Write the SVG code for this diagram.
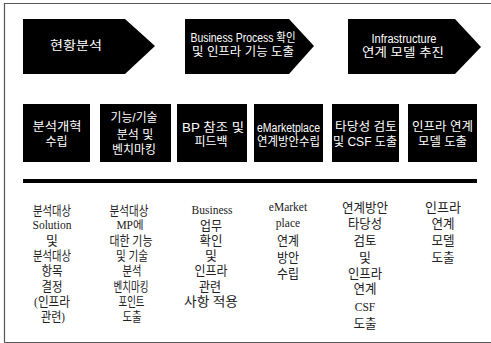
<svg xmlns="http://www.w3.org/2000/svg" width="491" height="343" viewBox="0 0 491 343">
<style>
.frame{fill:none;stroke:#555;stroke-width:1.2}
.blk{fill:#000}
.wt{fill:#fff;font-family:"Liberation Sans","Noto Sans CJK KR",sans-serif;font-size:12px;text-anchor:middle}
.bt{fill:#222;font-family:"Liberation Serif","Noto Sans CJK KR",serif;font-size:13px;text-anchor:middle}
.lt{font-size:11.5px}
</style>
<rect width="491" height="343" fill="#fff"/>
<path class="frame" d="M4.5,342.5 V3.5 H491 M4.5,342.5 H491"/>
<g id="arrow1"><polygon class="blk" points="23,19 125,19 155,46 125,74 23,74"/><text class="wt" x="76" y="50" textLength="52" lengthAdjust="spacingAndGlyphs">현황분석</text></g>
<g id="arrow2"><polygon class="blk" points="185,19 289,19 314,46 289,74 185,74"/><text class="wt" x="243" y="42" textLength="105" lengthAdjust="spacingAndGlyphs">Business Process 확인</text><text class="wt" x="243" y="56" textLength="102" lengthAdjust="spacingAndGlyphs">및 인프라 기능 도출</text></g>
<g id="arrow3"><polygon class="blk" points="348,19 455,19 481,47 455,74 348,74"/><text class="wt" x="404" y="43" textLength="65" lengthAdjust="spacingAndGlyphs">Infrastructure</text><text class="wt" x="403" y="57" textLength="82" lengthAdjust="spacingAndGlyphs">연계 모델 추진</text></g>
<g id="box1"><rect class="blk" x="23" y="104" width="67" height="58"/><text class="wt" x="57" y="131" textLength="49" lengthAdjust="spacingAndGlyphs">분석개혁</text><text class="wt" x="56.5" y="145.5">수립</text></g>
<g id="box2"><rect class="blk" x="100" y="104" width="71" height="58"/><text class="wt" x="134" y="122" textLength="47" lengthAdjust="spacingAndGlyphs">기능/기술</text><text class="wt" x="135" y="138.5">분석 및</text><text class="wt" x="134" y="153.5" textLength="44" lengthAdjust="spacingAndGlyphs">벤치마킹</text></g>
<g id="box3"><rect class="blk" x="177" y="104" width="70" height="58"/><text class="wt" x="213" y="132" textLength="62" lengthAdjust="spacingAndGlyphs">BP 참조 및</text><text class="wt" x="211" y="146">피드백</text></g>
<g id="box4"><rect class="blk" x="254" y="104" width="69" height="58"/><text class="wt" x="288.5" y="132" textLength="63" lengthAdjust="spacingAndGlyphs">eMarketplace</text><text class="wt" x="288.5" y="146" textLength="63" lengthAdjust="spacingAndGlyphs">연계방안수립</text></g>
<g id="box5"><rect class="blk" x="332" y="104" width="67" height="58"/><text class="wt" x="366" y="131" textLength="62" lengthAdjust="spacingAndGlyphs">타당성 검토</text><text class="wt" x="365" y="146" textLength="64" lengthAdjust="spacingAndGlyphs">및 CSF 도출</text></g>
<g id="box6"><rect class="blk" x="408" y="104" width="69" height="58"/><text class="wt" x="442.5" y="131" textLength="61" lengthAdjust="spacingAndGlyphs">인프라 연계</text><text class="wt" x="442.5" y="146" textLength="49" lengthAdjust="spacingAndGlyphs">모델 도출</text></g>
<g id="divider"><rect class="blk" x="23" y="179" width="454" height="4"/></g>
<g id="col1" class="bt">
<text x="52" y="214.5" textLength="38" lengthAdjust="spacingAndGlyphs">분석대상</text>
<text class="lt" x="52" y="229">Solution</text>
<text x="52" y="244.5">및</text>
<text x="52" y="260" textLength="38" lengthAdjust="spacingAndGlyphs">분석대상</text>
<text x="52" y="275" textLength="21" lengthAdjust="spacingAndGlyphs">항목</text>
<text x="52" y="290.5" textLength="21" lengthAdjust="spacingAndGlyphs">결정</text>
<text x="52" y="305.5" textLength="36" lengthAdjust="spacingAndGlyphs">(인프라</text>
<text x="53" y="320.5" textLength="24" lengthAdjust="spacingAndGlyphs">관련)</text>
</g>
<g id="col2" class="bt">
<text x="129" y="214.5" textLength="39" lengthAdjust="spacingAndGlyphs">분석대상</text>
<text class="lt" x="130" y="229">MP에</text>
<text x="131" y="244.5" textLength="43" lengthAdjust="spacingAndGlyphs">대한 기능</text>
<text x="132" y="260" textLength="32" lengthAdjust="spacingAndGlyphs">및 기술</text>
<text x="132" y="275" textLength="19" lengthAdjust="spacingAndGlyphs">분석</text>
<text x="131" y="290.5" textLength="35" lengthAdjust="spacingAndGlyphs">벤치마킹</text>
<text x="131.5" y="305.5" textLength="26" lengthAdjust="spacingAndGlyphs">포인트</text>
<text x="132" y="320.5" textLength="19" lengthAdjust="spacingAndGlyphs">도출</text>
</g>
<g id="col3" class="bt">
<text class="lt" x="212" y="214">Business</text>
<text x="211" y="229.5" textLength="22" lengthAdjust="spacingAndGlyphs">업무</text>
<text x="211" y="244.5" textLength="23" lengthAdjust="spacingAndGlyphs">확인</text>
<text x="211" y="260">및</text>
<text x="211" y="275" textLength="33" lengthAdjust="spacingAndGlyphs">인프라</text>
<text x="210" y="290.5" textLength="22" lengthAdjust="spacingAndGlyphs">관련</text>
<text x="211" y="305.5" textLength="54" lengthAdjust="spacingAndGlyphs">사항 적용</text>
</g>
<g id="col4" class="bt">
<text class="lt" x="288" y="211">eMarket</text>
<text class="lt" x="288" y="227">place</text>
<text x="288" y="244.5" textLength="22" lengthAdjust="spacingAndGlyphs">연계</text>
<text x="288" y="262" textLength="22" lengthAdjust="spacingAndGlyphs">방안</text>
<text x="288" y="277.5" textLength="22" lengthAdjust="spacingAndGlyphs">수립</text>
</g>
<g id="col5" class="bt">
<text x="365" y="211.5" textLength="46" lengthAdjust="spacingAndGlyphs">연계방안</text>
<text x="365" y="227.5" textLength="34" lengthAdjust="spacingAndGlyphs">타당성</text>
<text x="365" y="244.5" textLength="23" lengthAdjust="spacingAndGlyphs">검토</text>
<text x="365" y="262">및</text>
<text x="365" y="277.5" textLength="34" lengthAdjust="spacingAndGlyphs">인프라</text>
<text x="365" y="292.5" textLength="23" lengthAdjust="spacingAndGlyphs">연계</text>
<text class="lt" x="365" y="311">CSF</text>
<text x="365" y="327.5" textLength="23" lengthAdjust="spacingAndGlyphs">도출</text>
</g>
<g id="col6" class="bt">
<text x="443" y="211.5" textLength="36" lengthAdjust="spacingAndGlyphs">인프라</text>
<text x="443" y="227.5" textLength="23" lengthAdjust="spacingAndGlyphs">연계</text>
<text x="443" y="244.5" textLength="23" lengthAdjust="spacingAndGlyphs">모델</text>
<text x="443" y="262" textLength="23" lengthAdjust="spacingAndGlyphs">도출</text>
</g>
</svg>
